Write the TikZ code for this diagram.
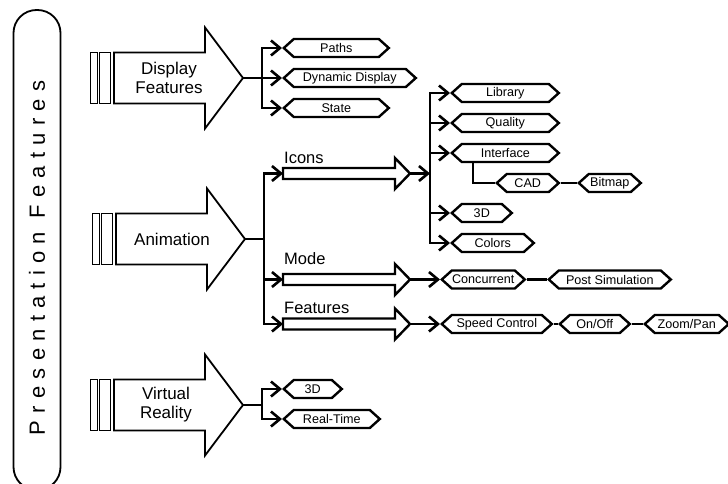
\documentclass[tikz,border=0pt]{standalone}
\usepackage{fontspec}
\setmainfont{Liberation Sans}
\usetikzlibrary{arrows.meta,shapes.symbols}

\begin{document}
\begin{tikzpicture}[x=1pt,y=-1pt]
	\tikzset{hexa/.style = {signal, signal to=west and east, signal pointer angle=84, draw, line width=2.4pt, inner sep=0pt, minimum height=18pt, anchor=west, font=\fontsize{12.6}{14}\selectfont},
		bigarrow/.style = {draw, line width=1.8pt, line join=miter},
		smallarrow/.style = {draw, line width=2.4pt, line join=miter},
		bar/.style = {draw, line width=1.3pt, minimum height=51pt, inner sep=0pt, anchor=west},
		wire/.style = {line width=2.6pt},
		conn/.style = {line width=2.6pt, -{Straight Barb[length=9pt,width=15pt]}},
		bigtext/.style = {font=\fontsize{17}{19}\selectfont, align=center},
		tag/.style = {font=\fontsize{16.5}{18}\selectfont, anchor=base west, inner sep=0pt}}

	\clip (0,0) rectangle (728,484);

	\node[draw, line width=1.8pt, rounded corners=23pt, rotate=90, minimum width=480pt, minimum height=47pt, inner sep=0pt] (pres) at (37,250) {};
	\node[rotate=90, inner sep=0pt, font=\fontsize{22}{24}\selectfont\addfontfeature{LetterSpace=33}] (prestext) at (37,258) {Presentation Features};

	% display features
	\node[bar, minimum width=7pt] (dfbar1) at (90,78) {};
	\node[bar, minimum width=11pt] (dfbar2) at (99,78) {};
	\coordinate (dftip) at (243,78);
	\draw[bigarrow] (dftip) ++(-129,-25.5) -- ++(91,0) -- ++(0,-25) -- (dftip) -- ++(-38,50.5) -- ++(0,-25) -- ++(-91,0) -- cycle;
	\node[bigtext] (dftext) at (169,78) {Display\\Features};
	\coordinate (dfsplit) at (262,78);

	\node[hexa, minimum width=105pt] (paths) at (282,48) {Paths};
	\node[hexa, minimum width=132pt] (dynamic) at (282,78) {Dynamic Display};
	\node[hexa, minimum width=105pt] (state) at (282,108) {State};

	\draw[wire] (dftip) -- (dfsplit);
	\draw[conn] (dfsplit) |- (paths.west);
	\draw[conn] (dfsplit) -- (dynamic.west);
	\draw[conn] (dfsplit) |- (state.west);

	% animation
	\node[bar, minimum width=7pt] (anbar1) at (92,239) {};
	\node[bar, minimum width=11pt] (anbar2) at (101,239) {};
	\coordinate (antip) at (245,239);
	\draw[bigarrow] (antip) ++(-129,-25.5) -- ++(91,0) -- ++(0,-25) -- (antip) -- ++(-38,50.5) -- ++(0,-25) -- ++(-91,0) -- cycle;
	\node[bigtext] (antext) at (172,239) {Animation};
	\coordinate (ansplit) at (264,239);

	\coordinate (iconstail) at (283,173.5);
	\coordinate (iconstip) at (410,173.5);
	\draw[smallarrow] (iconstip) ++(-127,-5.5) -- ++(112,0) -- ++(0,-10) -- (iconstip) -- ++(-15,15.5) -- ++(0,-10) -- ++(-112,0) -- cycle;
	\node[tag] (iconstag) at (284,163) {Icons};

	\coordinate (modetail) at (283,279.5);
	\coordinate (modetip) at (410,279.5);
	\draw[smallarrow] (modetip) ++(-127,-5.5) -- ++(112,0) -- ++(0,-10) -- (modetip) -- ++(-15,15.5) -- ++(0,-10) -- ++(-112,0) -- cycle;
	\node[tag] (modetag) at (284,264) {Mode};

	\coordinate (featurestail) at (283,324);
	\coordinate (featurestip) at (410,324);
	\draw[smallarrow] (featurestip) ++(-127,-5.5) -- ++(112,0) -- ++(0,-10) -- (featurestip) -- ++(-15,15.5) -- ++(0,-10) -- ++(-112,0) -- cycle;
	\node[tag] (featurestag) at (284,313) {Features};

	\draw[wire] (antip) -- (ansplit);
	\draw[conn] (ansplit) |- (iconstail);
	\draw[conn] (ansplit) |- (modetail);
	\draw[conn] (ansplit) |- (featurestail);

	\coordinate (iconsplit) at (430,173.5);
	\node[hexa, minimum width=107pt] (library) at (450,93) {Library};
	\node[hexa, minimum width=107pt] (quality) at (450,123) {Quality};
	\node[hexa, minimum width=107pt] (interface) at (450,153) {Interface};
	\node[hexa, minimum width=62pt] (cad) at (495,183) {CAD};
	\node[hexa, minimum width=62pt] (bitmap) at (577,183) {Bitmap};
	\node[hexa, minimum width=60pt] (icon3d) at (450,213) {3D};
	\node[hexa, minimum width=82pt] (colors) at (450,243) {Colors};
	\coordinate (ifdrop) at (473,162);

	\draw[conn] (iconstip) -- (iconsplit);
	\draw[conn] (iconsplit) |- (library.west);
	\draw[conn] (iconsplit) |- (quality.west);
	\draw[conn] (iconsplit) |- (interface.west);
	\draw[conn] (iconsplit) |- (icon3d.west);
	\draw[conn] (iconsplit) |- (colors.west);
	\draw[wire] (ifdrop) |- (cad.west);
	\draw[wire] (cad.east) -- (bitmap.west);

	\node[hexa, minimum width=83pt] (concurrent) at (440,279.5) {Concurrent};
	\node[hexa, minimum width=122pt] (postsim) at (547,279.5) {Post Simulation};
	\draw[conn] (modetip) -- (concurrent.west);
	\draw[wire] (concurrent.east) -- (postsim.west);

	\node[hexa, minimum width=110pt] (speed) at (440,324) {Speed Control};
	\node[hexa, minimum width=70pt] (onoff) at (558,324) {On/Off};
	\node[hexa, minimum width=84pt] (zoompan) at (643,324) {Zoom/Pan};
	\draw[conn] (featurestip) -- (speed.west);
	\draw[wire] (speed.east) -- (onoff.west);
	\draw[wire] (onoff.east) -- (zoompan.west);

	% virtual reality
	\node[bar, minimum width=7pt] (vrbar1) at (90,405) {};
	\node[bar, minimum width=11pt] (vrbar2) at (99,405) {};
	\coordinate (vrtip) at (243,405);
	\draw[bigarrow] (vrtip) ++(-129,-25.5) -- ++(91,0) -- ++(0,-25) -- (vrtip) -- ++(-38,50.5) -- ++(0,-25) -- ++(-91,0) -- cycle;
	\node[bigtext] (vrtext) at (166,405) {Virtual\\Reality};
	\coordinate (vrsplit) at (262,405);

	\node[hexa, minimum width=58pt] (vr3d) at (282,389) {3D};
	\node[hexa, minimum width=96pt] (realtime) at (282,419) {Real-Time};

	\draw[wire] (vrtip) -- (vrsplit);
	\draw[conn] (vrsplit) |- (vr3d.west);
	\draw[conn] (vrsplit) |- (realtime.west);

\end{tikzpicture}
\end{document}
